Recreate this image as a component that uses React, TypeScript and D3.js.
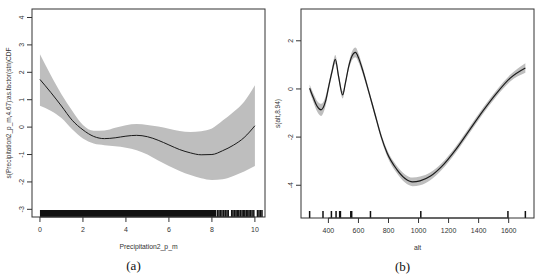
import * as d3 from "d3";

// Panel (a): smooth of Precipitation2_p_m
const precipX = [0, 0.5, 1, 1.5, 2, 2.5, 3, 3.5, 4, 4.5, 5, 5.5, 6, 6.5, 7, 7.5, 8, 8.5, 9, 9.5, 10];
const precipFit = [1.74, 1.27, 0.77, 0.25, -0.1, -0.34, -0.42, -0.39, -0.33, -0.3, -0.35, -0.48, -0.65, -0.82, -0.94, -1.01, -1.0, -0.86, -0.66, -0.38, 0.05];
const precipUpper = [2.66, 1.9, 1.2, 0.6, 0.08, -0.13, -0.12, -0.02, 0.07, 0.11, 0.08, 0.02, -0.06, -0.14, -0.18, -0.15, -0.05, 0.24, 0.55, 0.93, 1.53];
const precipLower = [0.78, 0.6, 0.33, -0.08, -0.42, -0.6, -0.66, -0.7, -0.75, -0.84, -1.0, -1.22, -1.42, -1.6, -1.75, -1.87, -1.93, -1.9, -1.78, -1.62, -1.42];
// rug: dense run of observations, then the sparse ones
const precipRugRuns = [[0, 8.2]];
const precipRug = [8.26, 8.33, 8.4, 8.47, 8.55, 8.62, 8.7, 8.76, 8.92, 8.98, 9.05, 9.12, 9.18, 9.25, 9.32, 9.4, 9.46, 9.53, 9.6, 9.67, 9.73, 9.8, 9.87, 9.95, 10.12, 10.19, 10.26, 10.33];
const precipXTicks = [0, 2, 4, 6, 8, 10];
const precipYTicks = [-3, -2, -1, 0, 1, 2, 3, 4];

// Panel (b): smooth of alt
const altX = [275, 300, 325, 351, 380, 402, 424, 446, 468, 495, 513, 535, 557, 580, 602, 624, 668, 710, 750, 790, 856, 910, 960, 1010, 1080, 1150, 1250, 1340, 1430, 1520, 1610, 1711];
const altFit = [0.03, -0.37, -0.72, -0.87, -0.53, 0.1, 0.72, 1.23, 0.51, -0.25, 0.24, 0.93, 1.37, 1.52, 1.27, 0.86, -0.1, -1.05, -1.95, -2.65, -3.35, -3.72, -3.86, -3.82, -3.62, -3.25, -2.5, -1.7, -0.9, -0.17, 0.45, 0.87];
const altSe = [0.15, 0.18, 0.22, 0.25, 0.2, 0.15, 0.15, 0.18, 0.15, 0.15, 0.12, 0.14, 0.18, 0.2, 0.18, 0.15, 0.12, 0.12, 0.12, 0.13, 0.15, 0.17, 0.18, 0.18, 0.16, 0.14, 0.13, 0.13, 0.13, 0.13, 0.14, 0.2];
const altRug = [275, 364, 420, 451, 475, 480, 549, 555, 680, 1015, 1595, 1711];
const altXTicks = [400, 600, 800, 1000, 1200, 1400, 1600];
const altYTicks = [-4, -2, 0, 2];

const sans = "'Liberation Sans', Arial, sans-serif";
const serif = "'Liberation Serif', 'Times New Roman', serif";

interface PanelProps {
  box: { x0: number; x1: number; y0: number; y1: number };
  xDomain: [number, number];
  yDomain: [number, number];
  xTicks: number[];
  yTicks: number[];
  xs: number[];
  fit: number[];
  lo: number[];
  hi: number[];
  rug: number[];
  rugRuns?: number[][];
  xLabel: string;
  yLabel: string;
  tag: string;
  lineWidth: number;
}

function Panel(p: PanelProps) {
  const { box } = p;
  const x = d3.scaleLinear().domain(p.xDomain).range([box.x0, box.x1]);
  const y = d3.scaleLinear().domain(p.yDomain).range([box.y1, box.y0]);
  const pts = p.xs.map((v, i) => ({ x: v, f: p.fit[i], lo: p.lo[i], hi: p.hi[i] }));

  const area = d3
    .area<(typeof pts)[number]>()
    .x((d) => x(d.x))
    .y0((d) => y(d.lo))
    .y1((d) => y(d.hi))
    .curve(d3.curveMonotoneX);
  const line = d3
    .line<(typeof pts)[number]>()
    .x((d) => x(d.x))
    .y((d) => y(d.f))
    .curve(d3.curveMonotoneX);

  const rugTop = box.y1 - 7;
  const midY = (box.y0 + box.y1) / 2;
  const midX = (box.x0 + box.x1) / 2;
  const xt0 = x(p.xTicks[0]);
  const xt1 = x(p.xTicks[p.xTicks.length - 1]);

  return (
    <g>
      <path d={area(pts) ?? ""} fill="#bebebe" />
      <path d={line(pts) ?? ""} fill="none" stroke="#1a1a1a" strokeWidth={p.lineWidth} />

      {(p.rugRuns ?? []).map((r, i) => (
        <rect key={"run" + i} x={x(r[0])} y={rugTop} width={x(r[1]) - x(r[0])} height={box.y1 - rugTop} fill="#111" />
      ))}
      {p.rug.map((v, i) => (
        <line key={"rug" + i} x1={x(v)} x2={x(v)} y1={rugTop} y2={box.y1} stroke="#111" strokeWidth={1.5} />
      ))}

      <rect x={box.x0} y={box.y0} width={box.x1 - box.x0} height={box.y1 - box.y0} fill="none" stroke="#333" strokeWidth={1} />

      {/* x axis */}
      <line x1={xt0} x2={xt1} y1={box.y1} y2={box.y1} stroke="#333" />
      {p.xTicks.map((t) => (
        <g key={"xt" + t}>
          <line x1={x(t)} x2={x(t)} y1={box.y1} y2={box.y1 + 5} stroke="#333" />
          <text x={x(t)} y={box.y1 + 15} textAnchor="middle" fontSize={7} fontFamily={sans} fill="#333">
            {t}
          </text>
        </g>
      ))}

      {/* y axis */}
      {p.yTicks.map((t) => (
        <g key={"yt" + t}>
          <line x1={box.x0 - 5} x2={box.x0} y1={y(t)} y2={y(t)} stroke="#333" />
          <text
            transform={`translate(${box.x0 - 8.5},${y(t)}) rotate(-90)`}
            textAnchor="middle"
            fontSize={7}
            fontFamily={sans}
            fill="#333"
          >
            {t}
          </text>
        </g>
      ))}

      <text x={midX} y={box.y1 + 31.5} textAnchor="middle" fontSize={6.8} fontFamily={sans} fill="#333">
        {p.xLabel}
      </text>
      <text
        transform={`translate(${box.x0 - 21.5},${midY}) rotate(-90)`}
        textAnchor="middle"
        fontSize={6.5}
        fontFamily={sans}
        fill="#333"
      >
        {p.yLabel}
      </text>
      <text x={midX - 15} y={box.y1 + 53} textAnchor="middle" fontSize={13} fontFamily={serif} fill="#111">
        {p.tag}
      </text>
    </g>
  );
}

export default function App() {
  return (
    <svg
      width={535}
      height={280}
      style={{ position: "absolute", left: 0, top: 0, background: "#fff" }}
    >
      <Panel
        box={{ x0: 32, x1: 265, y0: 9, y1: 217 }}
        xDomain={[-0.37, 10.47]}
        yDomain={[-3.28, 4.31]}
        xTicks={precipXTicks}
        yTicks={precipYTicks}
        xs={precipX}
        fit={precipFit}
        lo={precipLower}
        hi={precipUpper}
        rug={precipRug}
        rugRuns={precipRugRuns}
        xLabel="Precipitation2_p_m"
        yLabel="s(Precipitation2_p_m,4.67):as.factor(stn)CDF"
        tag="(a)"
        lineWidth={1}
      />
      <Panel
        box={{ x0: 301, x1: 534, y0: 9, y1: 218 }}
        xDomain={[217.6, 1768.5]}
        yDomain={[-5.36, 3.32]}
        xTicks={altXTicks}
        yTicks={altYTicks}
        xs={altX}
        fit={altFit}
        lo={altFit.map((v, i) => v - altSe[i])}
        hi={altFit.map((v, i) => v + altSe[i])}
        rug={altRug}
        xLabel="alt"
        yLabel="s(alt,8.94)"
        tag="(b)"
        lineWidth={1.2}
      />
    </svg>
  );
}
